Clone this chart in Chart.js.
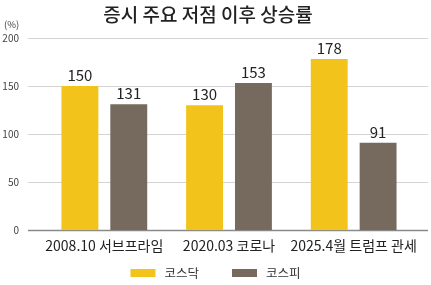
<!DOCTYPE html>
<html>
<head>
<meta charset="utf-8">
<script src="https://cdn.jsdelivr.net/npm/chart.js@4"></script>
<style>
  html, body { margin: 0; padding: 0; background: #fff; }
  #wrap { width: 431px; height: 285px; }
</style>
</head>
<body>
<div id="wrap"><canvas id="chart" width="431" height="285"></canvas></div>
<script>
// Chart data
const categories = ['2008.10 서브프라임', '2020.03 코로나', '2025.4월 트럼프 관세'];
const seriesNames = ['코스닥', '코스피'];
const kosdaqValues = [150, 130, 178];
const kospiValues = [131, 153, 91];
const yTicks = [0, 50, 100, 150, 200];

const FONT = "'Noto Sans CJK KR', 'Noto Sans', sans-serif";
const YELLOW = '#F2C31B';
const GRAY = '#766A5F';

// Horizontal grid lines, a bit wider than the plot area
const gridPlugin = {
  id: 'wideGrid',
  beforeDatasetsDraw(chart) {
    const { ctx, chartArea, scales } = chart;
    ctx.save();
    yTicks.forEach(v => {
      const y = Math.round(scales.y.getPixelForValue(v)) + 0.5;
      ctx.beginPath();
      ctx.strokeStyle = v === 0 ? '#8a8a8a' : '#d4d4d4';
      ctx.lineWidth = v === 0 ? 1.5 : 1;
      ctx.moveTo(chartArea.left - 14, y);
      ctx.lineTo(chartArea.right + 12, y);
      ctx.stroke();
    });
    ctx.restore();
  }
};

// Value labels above bars, unit label, and a bottom legend
const labelPlugin = {
  id: 'valueLabels',
  afterDatasetsDraw(chart) {
    const { ctx, chartArea } = chart;
    ctx.save();
    ctx.font = '15px ' + FONT;
    ctx.fillStyle = '#222';
    ctx.textAlign = 'center';
    ctx.textBaseline = 'bottom';
    chart.data.datasets.forEach((ds, i) => {
      chart.getDatasetMeta(i).data.forEach((bar, j) => {
        ctx.fillText(String(ds.data[j]), bar.x, bar.y - 3);
      });
    });

    ctx.font = '9.5px ' + FONT;
    ctx.fillStyle = '#444';
    ctx.textAlign = 'left';
    ctx.textBaseline = 'middle';
    ctx.fillText('(%)', chartArea.left - 38, chartArea.top - 13);

    // legend
    ctx.font = '12.5px ' + FONT;
    const boxW = 25, boxH = 8, textGap = 9, itemGap = 33;
    const items = chart.data.datasets.map(ds => ({
      label: ds.label, color: ds.backgroundColor,
      w: boxW + textGap + ctx.measureText(ds.label).width
    }));
    const total = items.reduce((s, it) => s + it.w, 0) + itemGap * (items.length - 1);
    let x = (chart.width - total) / 2;
    const cy = chart.height - 12;
    items.forEach(it => {
      ctx.fillStyle = it.color;
      ctx.fillRect(x, cy - boxH / 2, boxW, boxH);
      ctx.fillStyle = '#333';
      ctx.fillText(it.label, x + boxW + textGap, cy);
      x += it.w + itemGap;
    });
    ctx.restore();
  }
};

const ctx = document.getElementById('chart').getContext('2d');
new Chart(ctx, {
  type: 'bar',
  data: {
    labels: categories,
    datasets: [{
      label: seriesNames[0],
      data: kosdaqValues,
      backgroundColor: YELLOW
    }, {
      label: seriesNames[1],
      data: kospiValues,
      backgroundColor: GRAY
    }]
  },
  options: {
    responsive: false,
    animation: false,
    categoryPercentage: 0.784,
    barPercentage: 0.755,
    layout: { padding: { left: 0, right: 15, top: 0, bottom: 24 } },
    scales: {
      x: {
        grid: { display: false, drawTicks: false },
        border: { display: false },
        ticks: {
          color: '#222', font: { family: FONT, size: 14 }, padding: 7,
          maxRotation: 0, minRotation: 0, autoSkip: false
        }
      },
      y: {
        min: 0,
        max: 200,
        afterFit(scale) { scale.width = 42; },
        afterBuildTicks(scale) { scale.ticks = yTicks.map(v => ({ value: v })); },
        grid: { display: false, drawTicks: false },
        border: { display: false },
        ticks: { color: '#444', font: { family: FONT, size: 10 }, padding: 23 }
      }
    },
    plugins: {
      title: {
        display: true,
        text: '증시 주요 저점 이후 상승률',
        color: '#222',
        font: { family: FONT, size: 19, weight: '500' },
        padding: { top: 3, bottom: 12 }
      },
      legend: { display: false },
      tooltip: { enabled: false }
    }
  },
  plugins: [gridPlugin, labelPlugin]
});
</script>
</body>
</html>
